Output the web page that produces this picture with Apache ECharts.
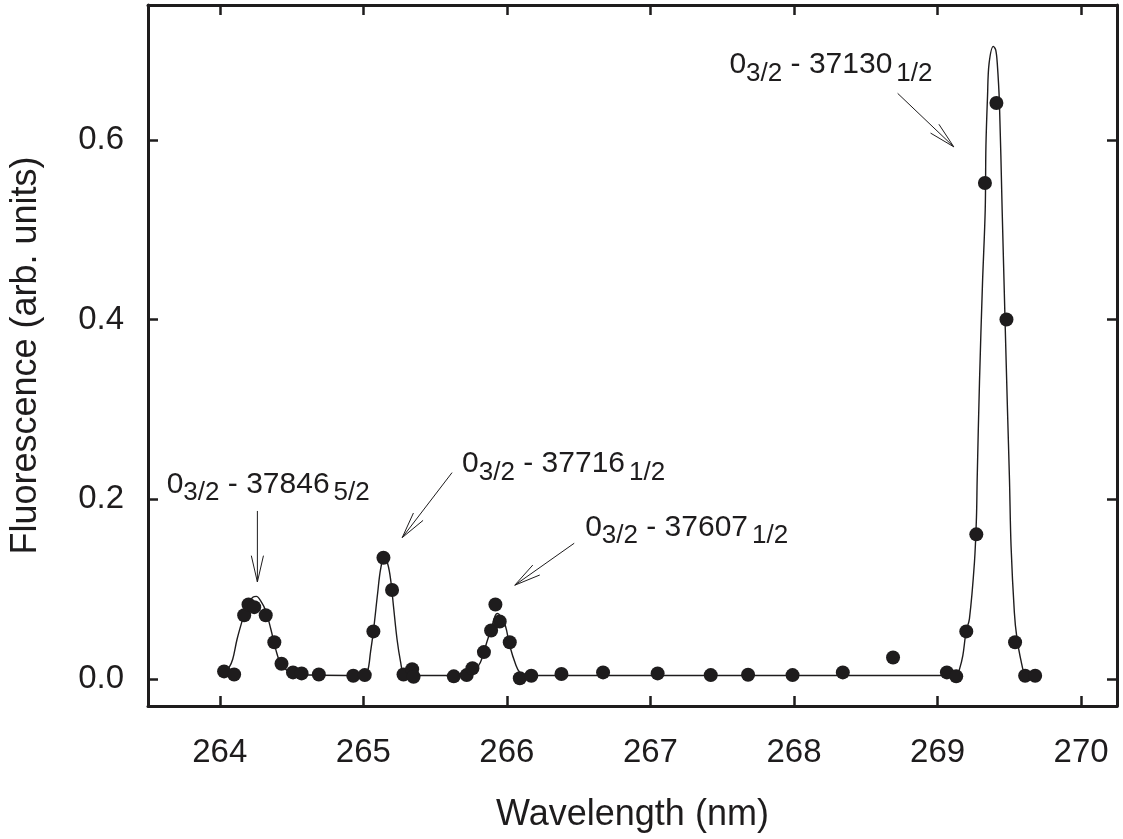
<!DOCTYPE html>
<html>
<head>
<meta charset="utf-8">
<script src="https://cdn.jsdelivr.net/npm/echarts@6/dist/echarts.min.js"></script>
<style>
  html, body { margin: 0; padding: 0; background: #ffffff; }
  #chart { width: 1123px; height: 839px; }
</style>
</head>
<body>
<div id="chart"></div>
<script>
// Measured fluorescence (wavelength in nm, intensity in arb. units)
const wavelength = [
  264.03, 264.10, 264.17, 264.20, 264.24, 264.32, 264.38, 264.43, 264.51, 264.57,
  264.69, 264.93, 265.01, 265.07, 265.14, 265.20, 265.28, 265.34, 265.35, 265.63,
  265.72, 265.76, 265.84, 265.89, 265.92, 265.95, 266.02, 266.09, 266.17, 266.38,
  266.67, 267.05, 267.42, 267.68, 267.99, 268.34, 268.69, 269.065, 269.13, 269.20,
  269.27, 269.33, 269.41, 269.48, 269.54, 269.61, 269.68
];
const fluorescence = [
  0.0085, 0.005, 0.071, 0.083, 0.080, 0.071, 0.041, 0.017, 0.0074, 0.0063,
  0.005, 0.0037, 0.0044, 0.053, 0.135, 0.099, 0.005, 0.011, 0.0026, 0.003,
  0.0044, 0.012, 0.030, 0.054, 0.083, 0.064, 0.041, 0.0008, 0.0037, 0.0056,
  0.0074, 0.0063, 0.0044, 0.0048, 0.0044, 0.0074, 0.024, 0.0074, 0.003, 0.053,
  0.161, 0.552, 0.641, 0.40, 0.041, 0.0037, 0.0037
];

// Fitted line profile, traced point by point
const fitWavelength = [
  264.035, 264.065, 264.09, 264.12, 264.16, 264.19, 264.23, 264.255, 264.285, 264.32,
  264.355, 264.39, 264.42, 264.47, 264.54, 264.62, 265.00, 265.03, 265.05, 265.07,
  265.10, 265.12, 265.145, 265.17, 265.19, 265.21, 265.235, 265.26, 265.28, 265.32,
  265.70, 265.77, 265.815, 265.86, 265.90, 265.92, 265.935, 265.955, 265.99, 266.02,
  266.06, 266.09, 266.14, 269.134, 269.153, 269.176, 269.199, 269.222, 269.257, 269.271,
  269.276, 269.292, 269.313, 269.332, 269.337, 269.348, 269.359, 269.389, 269.405, 269.416,
  269.431, 269.450, 269.470, 269.487, 269.501, 269.512, 269.535, 269.551, 269.582, 269.612,
  269.68
];
const fitFluorescence = [
  0.009, 0.013, 0.022, 0.044, 0.067, 0.083, 0.091, 0.092, 0.087, 0.076,
  0.056, 0.033, 0.0185, 0.0093, 0.0056, 0.0045, 0.004, 0.009, 0.030, 0.053,
  0.096, 0.122, 0.136, 0.128, 0.111, 0.081, 0.044, 0.0185, 0.006, 0.004,
  0.004, 0.009, 0.0185, 0.041, 0.061, 0.071, 0.073, 0.070, 0.059, 0.037,
  0.0167, 0.0074, 0.004, 0.004, 0.011, 0.026, 0.053, 0.067, 0.13, 0.18,
  0.222, 0.33, 0.44, 0.522, 0.593, 0.648, 0.685, 0.704, 0.70, 0.685,
  0.641, 0.522, 0.40, 0.30, 0.222, 0.148, 0.074, 0.048, 0.020, 0.0056,
  0.004
];

const xTicks = [264, 265, 266, 267, 268, 269, 270];
const yTicks = [0.0, 0.2, 0.4, 0.6];

// Transition labels: lower level, upper level and its J
const transitionLower = ['0', '0', '0', '0'];
const transitionLowerJ = ['3/2', '3/2', '3/2', '3/2'];
const transitionUpper = ['37846', '37716', '37607', '37130'];
const transitionUpperJ = ['5/2', '1/2', '1/2', '1/2'];

// Label anchors and arrows, in data coordinates [wavelength, fluorescence]
const labelAnchor = [[263.63, 0.2167], [265.688, 0.240], [266.545, 0.1689], [267.55, 0.6839]];
const arrowTail = [[264.262, 0.187], [265.618, 0.2297], [266.469, 0.1511], [268.722, 0.6517]];
const arrowTip = [[264.262, 0.108], [265.271, 0.1574], [266.055, 0.1044], [269.113, 0.5922]];

const INK = '#1e1c1d';
const FONT = '"Liberation Sans", Arial, Helvetica, sans-serif';

const chart = echarts.init(document.getElementById('chart'), null, { renderer: 'canvas' });

const xRange = { min: 263.5, max: 270.25 };
const yRange = { min: -0.03, max: 0.75 };

function frameAxis(extra) {
  return Object.assign({
    type: 'value',
    splitLine: { show: false },
    axisLine: { show: true, onZero: false, lineStyle: { color: INK, width: 3 } },
    axisTick: { show: true, inside: true, length: 10, lineStyle: { color: INK, width: 2.5 } },
    axisLabel: { show: false }
  }, extra);
}

const option = {
  backgroundColor: '#ffffff',
  animation: false,
  grid: { left: 148, right: 6, top: 5, bottom: 133, show: false },
  xAxis: [
    frameAxis({
      position: 'bottom', min: xRange.min, max: xRange.max,
      axisTick: { show: true, inside: true, length: 10, customValues: xTicks, lineStyle: { color: INK, width: 2.5 } },
      axisLabel: { show: true, customValues: xTicks, fontSize: 33, margin: 30, color: INK, fontFamily: FONT },
      name: 'Wavelength (nm)', nameLocation: 'middle', nameGap: 91,
      nameTextStyle: { fontSize: 36, color: INK, fontFamily: FONT }
    }),
    frameAxis({
      position: 'top', min: xRange.min, max: xRange.max,
      axisTick: { show: true, inside: true, length: 10, customValues: xTicks, lineStyle: { color: INK, width: 2.5 } }
    })
  ],
  yAxis: [
    frameAxis({
      position: 'left', min: yRange.min, max: yRange.max,
      axisTick: { show: true, inside: true, length: 10, customValues: yTicks, lineStyle: { color: INK, width: 2.5 } },
      axisLabel: {
        show: true, customValues: yTicks, fontSize: 33, margin: 24, color: INK, fontFamily: FONT,
        formatter: v => v.toFixed(1)
      },
      name: 'Fluorescence (arb. units)', nameLocation: 'middle', nameGap: 104,
      nameTextStyle: { fontSize: 36, color: INK, fontFamily: FONT }
    }),
    frameAxis({
      position: 'right', min: yRange.min, max: yRange.max,
      axisTick: { show: true, inside: true, length: 10, customValues: yTicks, lineStyle: { color: INK, width: 2.5 } }
    })
  ],
  series: [
    {
      name: 'fit',
      type: 'line',
      data: fitWavelength.map((x, i) => [x, fitFluorescence[i]]),
      showSymbol: false,
      smooth: 0.35,
      lineStyle: { color: INK, width: 1.4 },
      z: 2
    },
    {
      name: 'measured',
      type: 'scatter',
      data: wavelength.map((x, i) => [x, fluorescence[i]]),
      symbol: 'circle',
      symbolSize: 14,
      itemStyle: { color: INK, opacity: 1 },
      z: 3
    }
  ]
};

chart.setOption(option);

// Transition labels with arrows pointing at their peaks
function buildAnnotations() {
  const toPx = p => chart.convertToPixel({ gridIndex: 0 }, p);
  const elements = [];
  const headLen = 27;
  const headAngle = 13 * Math.PI / 180;

  transitionUpper.forEach((upper, i) => {
    const a = toPx(labelAnchor[i]);
    elements.push({
      type: 'text',
      x: a[0], y: a[1],
      style: {
        text: '{m|' + transitionLower[i] + '}{s|' + transitionLowerJ[i] + '}{m| - ' + upper + '}{t|' + transitionUpperJ[i] + '}',
        align: 'left',
        verticalAlign: 'middle',
        fill: INK,
        rich: {
          m: { fontSize: 30, lineHeight: 44, fontFamily: FONT, fill: INK },
          s: { fontSize: 26, lineHeight: 26, padding: [18, 0, 0, 0], fontFamily: FONT, fill: INK },
          t: { fontSize: 26, lineHeight: 26, padding: [18, 0, 0, 4], fontFamily: FONT, fill: INK }
        }
      },
      z: 10
    });

    const tail = toPx(arrowTail[i]);
    const tip = toPx(arrowTip[i]);
    elements.push({
      type: 'line',
      shape: { x1: tail[0], y1: tail[1], x2: tip[0], y2: tip[1] },
      style: { stroke: INK, lineWidth: 1 },
      z: 10
    });
    const ang = Math.atan2(tail[1] - tip[1], tail[0] - tip[0]);
    const p1 = [tip[0] + headLen * Math.cos(ang + headAngle), tip[1] + headLen * Math.sin(ang + headAngle)];
    const p2 = [tip[0] + headLen * Math.cos(ang - headAngle), tip[1] + headLen * Math.sin(ang - headAngle)];
    elements.push({
      type: 'polyline',
      shape: { points: [p1, tip, p2] },
      style: { stroke: INK, lineWidth: 1, fill: null },
      z: 10
    });
  });
  return elements;
}

chart.setOption({ graphic: buildAnnotations() });
</script>
</body>
</html>
